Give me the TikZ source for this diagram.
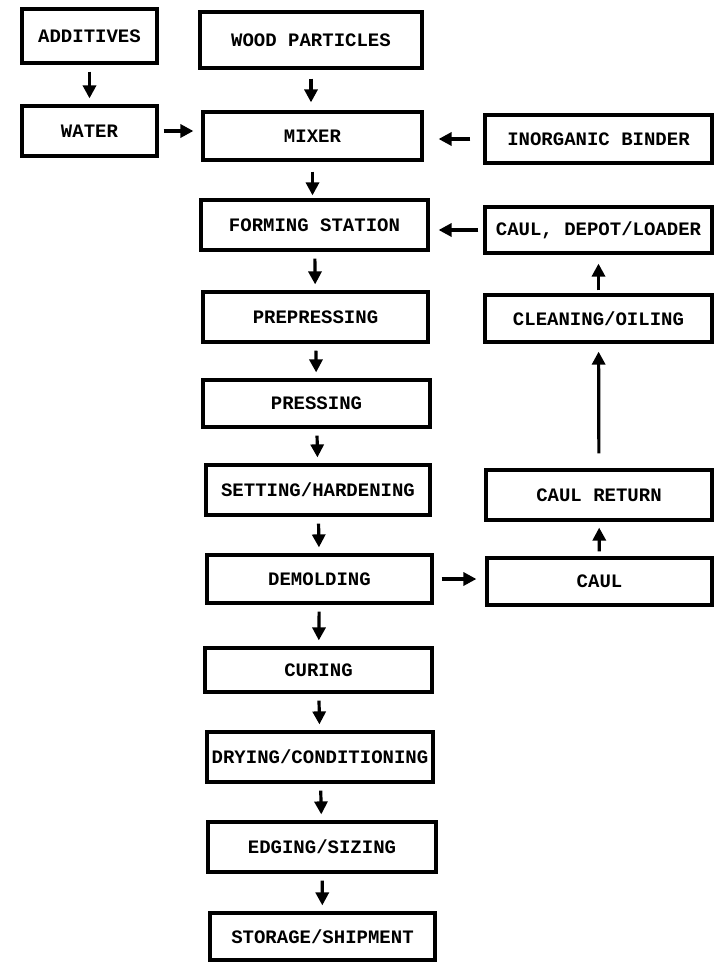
\documentclass[tikz,border=0pt]{standalone}
\usepackage{fontspec}
\setmonofont{Liberation Mono}
\usetikzlibrary{arrows.meta}
\tikzset{
  box/.style={draw=black, line width=3.2pt, inner sep=0pt, align=center,
    font=\ttfamily\bfseries\fontsize{19}{21}\selectfont},
  arr/.style={line width=3.2pt, -{Triangle[length=13pt,width=13pt]}, shorten <=7pt, shorten >=6pt}
}
\newcommand{\bx}[6]{\node[box, minimum width=#4pt, minimum height=#5pt] (#1) at (#2,#3) {#6};}
\begin{document}
\begin{tikzpicture}[x=1pt,y=-1pt]
\useasboundingbox (0,0) rectangle (718,966);
\bx{add}{89.5}{36}{135}{54}{ADDITIVES}
\bx{wood}{311}{40}{222}{56}{WOOD PARTICLES}
\bx{water}{89.5}{131}{135}{50}{WATER}
\bx{mixer}{312.5}{136}{219}{48}{MIXER}
\bx{binder}{598.5}{139}{227}{48}{INORGANIC BINDER}
\bx{forming}{314.5}{225}{227}{50}{FORMING STATION}
\bx{depot}{598.5}{230}{227}{46}{CAUL, DEPOT/LOADER}
\bx{clean}{598.5}{318.5}{227}{47}{CLEANING/OILING}
\bx{prepress}{315.5}{317}{225}{50}{PREPRESSING}
\bx{press}{316.5}{403.5}{227}{47}{PRESSING}
\bx{setting}{318}{490}{224}{50}{SETTING/HARDENING}
\bx{demold}{319.5}{579}{225}{48}{DEMOLDING}
\bx{caulret}{599}{495}{226}{50}{CAUL RETURN}
\bx{caul}{599.5}{581.5}{225}{47}{CAUL}
\bx{curing}{318.5}{670}{227}{44}{CURING}
\bx{drying}{320}{757}{226}{50}{DRYING/CONDITIONING}
\bx{edging}{322}{847}{228}{50}{EDGING/SIZING}
\bx{storage}{322.5}{936.5}{225}{47}{STORAGE/SHIPMENT}
% vertical arrows
\draw[arr] (add) -- (water);
\draw[arr, shorten <=9pt, shorten >=8pt] (wood.south) -- (wood.south |- mixer.north);
\draw[arr, shorten <=10pt, shorten >=3pt] (mixer.south) -- (mixer.south |- forming.north);
\draw[arr] (forming) -- (prepress);
\draw[arr] (prepress) -- (press);
\draw[arr] (press) -- (setting);
\draw[arr] (setting) -- (demold);
\draw[arr] (demold) -- (curing);
\draw[arr] (curing) -- (drying);
\draw[arr] (drying) -- (edging);
\draw[arr] (edging) -- (storage);
% right column
\draw[arr, shorten <=5pt] (caul) -- (caulret);
\draw[arr, shorten <=15pt, shorten >=8pt] (caulret) -- (clean);
\draw[arr, shorten <=3pt, shorten >=9pt] (clean) -- (depot);
% horizontal arrows
\draw[arr, shorten <=5pt, shorten >=8pt] (water.east) -- (water.east -| mixer.west);
\draw[arr, shorten <=13pt, shorten >=15pt] (binder.west) -- (binder.west -| mixer.east);
\draw[arr, shorten <=5pt, shorten >=9pt] (depot.west) -- (depot.west -| forming.east);
\draw[arr, shorten <=8pt, shorten >=9pt] (demold.east) -- (demold.east -| caul.west);
\end{tikzpicture}
\end{document}
